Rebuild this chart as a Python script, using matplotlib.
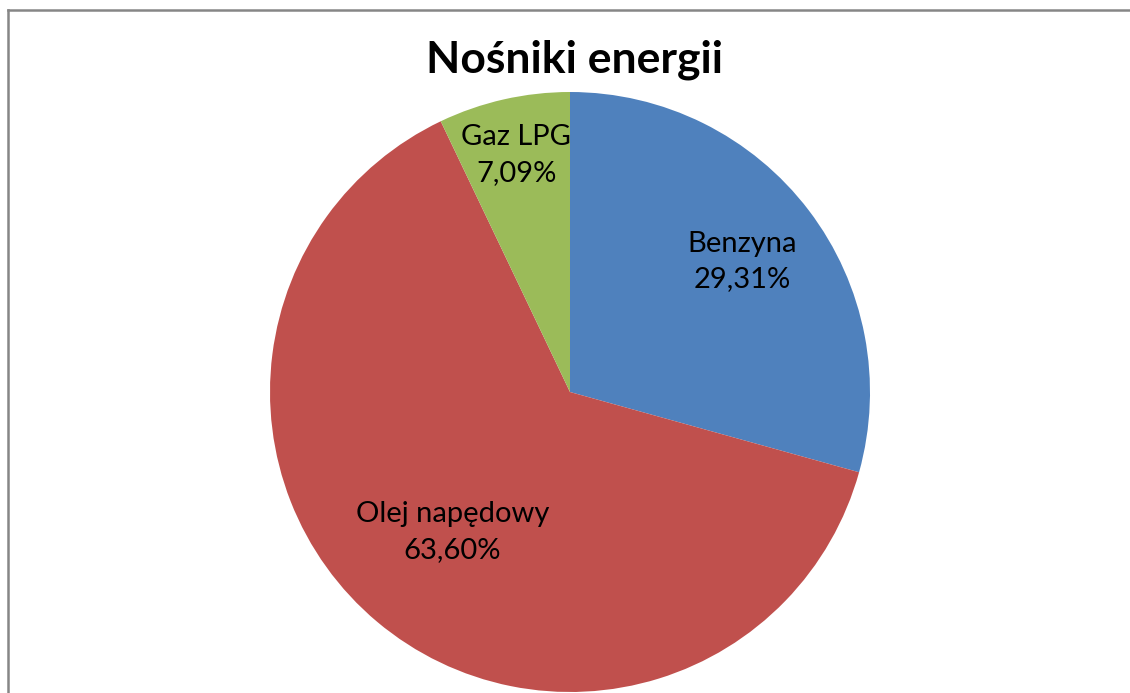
import matplotlib
matplotlib.use("Agg")
import matplotlib.pyplot as plt
import numpy as np
from matplotlib.lines import Line2D

labels = ["Benzyna", "Olej napędowy", "Gaz LPG"]
values = [29.31, 63.60, 7.09]
pct_text = ["29,31%", "63,60%", "7,09%"]
colors = ["#4F81BD", "#C0504D", "#9BBB59"]
label_radius = [0.72, 0.61, 0.81]
title = "Nośniki energii"

W, H = 1130, 693
fig = plt.figure(figsize=(W / 100, H / 100), dpi=100)
cx, cy, r = 570, 392, 300
ax = fig.add_axes([(cx - r) / W, (H - cy - r) / H, 2 * r / W, 2 * r / H])
wedges, _ = ax.pie(values, colors=colors, startangle=90, counterclock=False,
                   radius=1, wedgeprops=dict(linewidth=0))
for w, lab, p, rad in zip(wedges, labels, pct_text, label_radius):
    ang = np.deg2rad((w.theta1 + w.theta2) / 2)
    ax.text(rad * np.cos(ang), rad * np.sin(ang), f"{lab}\n{p}",
            ha="center", va="center", fontsize=21, family="Lato",
            linespacing=1.45, color="black")
ax.set_xlim(-1, 1)
ax.set_ylim(-1, 1)
ax.set_aspect("equal")
ax.axis("off")

fig.text(575 / W, 1 - 60 / H, title, ha="center", va="center",
         fontsize=32, fontweight="bold", family="Lato")

fig.add_artist(Line2D([7.5 / W, 7.5 / W], [0, 1 - 9.5 / H], transform=fig.transFigure,
                      color="#868686", linewidth=1.8))
fig.add_artist(Line2D([7.5 / W, 1], [1 - 9.5 / H, 1 - 9.5 / H], transform=fig.transFigure,
                      color="#868686", linewidth=1.8))

fig.savefig("out.png", dpi=100)
